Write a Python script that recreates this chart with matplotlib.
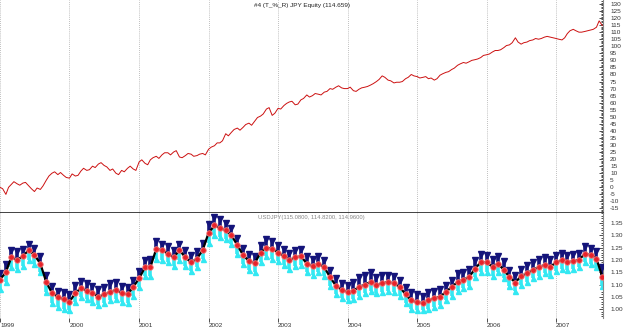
import matplotlib

matplotlib.use("Agg")
import matplotlib.dates as mdates
import matplotlib.pyplot as plt
import pandas as pd
from matplotlib.ticker import MultipleLocator, FormatStrFormatter

plt.rcParams["font.family"] = ["Liberation Sans", "DejaVu Sans"]

TITLE = "#4 (T_%_R) JPY Equity (114.659)"
PRICE_LABEL = "USDJPY(115.0800, 114.8200, 114.9600)"

# equity sampled twice a month, price sampled monthly, Jan 1999 .. Sep 2007
eq_dates = pd.date_range("1999-01-01", "2007-09-01", freq="SMS")
px_dates = pd.date_range("1999-01-01", "2007-09-01", freq="MS")
years = list(range(1999, 2008))

equity = [
    0, -1, -5, 0, 2, 4, 2.5, 1.5, 3, 3.5,
    1, -1, -3, -0.5, -1.5, 1, 5, 8, 10, 11,
    9, 10.5, 8.5, 7, 6.5, 9.5, 8, 8.5, 11.5, 13.5,
    12, 12.5, 15, 14, 16.5, 17.5, 15.5, 14.5, 12, 13,
    10, 9, 12, 11, 13.5, 15, 13, 12, 18, 19.5,
    17, 16, 19.5, 21, 22, 20.5, 23, 24.5, 24.5, 23,
    25, 26, 21.5, 21, 22.5, 24, 23.5, 22, 22.5, 23.5,
    24, 23, 27, 28.5, 29.5, 31.5, 31.5, 33, 38, 36.5,
    39, 41, 42, 40.5, 42.5, 44.5, 45.5, 44, 47, 49.5,
    50.5, 52, 55.5, 56.5, 51, 52.5, 56, 55.5, 58, 59.5,
    60.5, 61, 58.5, 59, 62, 63, 65.5, 64, 65, 66.5,
    66, 65.5, 67.5, 68, 70, 69.5, 71, 72, 70.5, 70,
    70, 71, 68.5, 68, 69.5, 70.5, 71, 71.5, 72.5, 73.5,
    75, 76.5, 79, 78, 76, 75.5, 74, 74.5, 74.5, 75,
    77, 78, 80, 79, 78.5, 77.5, 78, 78.5, 77, 77.5,
    76, 77, 79.5, 80.5, 81.5, 82, 83.5, 84.5, 86.5, 87.5,
    88.5, 88, 89, 90, 90.5, 91, 92, 93.5, 94, 94.5,
    96, 97, 97, 97.5, 99, 100.5, 101, 102.5, 106, 103,
    101.5, 102.5, 103, 104, 104.5, 105.5, 105, 105.5, 106.5, 107,
    106.5, 106, 105.5, 105, 104.5, 106, 109, 111, 112, 111,
    110, 110, 110.5, 111, 111.5, 112, 113.5, 118, 114.659,
]

usd_mid = [
    1.120, 1.150, 1.210, 1.200, 1.215, 1.240, 1.220, 1.185, 1.110, 1.065,
    1.050, 1.040, 1.030, 1.065, 1.085, 1.075, 1.065, 1.050, 1.060, 1.070,
    1.078, 1.065, 1.060, 1.090, 1.125, 1.170, 1.170, 1.245, 1.240, 1.225,
    1.210, 1.240, 1.210, 1.190, 1.205, 1.240, 1.310, 1.340, 1.330, 1.320,
    1.300, 1.260, 1.220, 1.195, 1.187, 1.230, 1.250, 1.245, 1.230, 1.215,
    1.200, 1.210, 1.215, 1.185, 1.175, 1.185, 1.170, 1.130, 1.095, 1.078,
    1.070, 1.075, 1.090, 1.100, 1.110, 1.098, 1.106, 1.110, 1.105, 1.090,
    1.060, 1.035, 1.028, 1.025, 1.035, 1.045, 1.050, 1.070, 1.090, 1.110,
    1.120, 1.130, 1.165, 1.190, 1.190, 1.172, 1.185, 1.160, 1.130, 1.108,
    1.135, 1.145, 1.160, 1.170, 1.180, 1.172, 1.190, 1.200, 1.190, 1.195,
    1.200, 1.225, 1.220, 1.205, 1.130,
]

usd_high = [
    1.145, 1.185, 1.240, 1.235, 1.245, 1.265, 1.250, 1.215, 1.140, 1.095,
    1.075, 1.070, 1.060, 1.100, 1.115, 1.105, 1.095, 1.080, 1.090, 1.105,
    1.110, 1.095, 1.090, 1.120, 1.155, 1.200, 1.205, 1.275, 1.265, 1.255,
    1.240, 1.265, 1.240, 1.220, 1.235, 1.270, 1.345, 1.375, 1.365, 1.350,
    1.330, 1.290, 1.250, 1.225, 1.215, 1.260, 1.285, 1.275, 1.260, 1.245,
    1.230, 1.240, 1.245, 1.215, 1.205, 1.215, 1.200, 1.160, 1.125, 1.105,
    1.100, 1.110, 1.130, 1.140, 1.150, 1.130, 1.140, 1.140, 1.135, 1.120,
    1.090, 1.070, 1.060, 1.055, 1.070, 1.075, 1.080, 1.100, 1.120, 1.145,
    1.150, 1.165, 1.200, 1.225, 1.220, 1.205, 1.215, 1.195, 1.160, 1.140,
    1.165, 1.180, 1.190, 1.205, 1.210, 1.205, 1.220, 1.230, 1.220, 1.225,
    1.230, 1.255, 1.250, 1.235, 1.170,
]

usd_low = [
    1.080, 1.110, 1.170, 1.165, 1.175, 1.200, 1.185, 1.150, 1.070, 1.025,
    1.010, 1.000, 0.995, 1.030, 1.050, 1.040, 1.030, 1.015, 1.025, 1.035,
    1.040, 1.030, 1.025, 1.055, 1.090, 1.135, 1.135, 1.205, 1.200, 1.190,
    1.175, 1.200, 1.175, 1.155, 1.170, 1.205, 1.270, 1.300, 1.295, 1.285,
    1.265, 1.225, 1.185, 1.160, 1.150, 1.190, 1.215, 1.205, 1.195, 1.180,
    1.165, 1.175, 1.180, 1.150, 1.140, 1.150, 1.135, 1.095, 1.060, 1.045,
    1.035, 1.040, 1.055, 1.065, 1.075, 1.065, 1.070, 1.075, 1.070, 1.055,
    1.025, 1.000, 0.995, 0.995, 1.000, 1.010, 1.015, 1.035, 1.055, 1.075,
    1.085, 1.095, 1.130, 1.150, 1.150, 1.135, 1.150, 1.125, 1.095, 1.075,
    1.100, 1.110, 1.125, 1.135, 1.145, 1.140, 1.155, 1.165, 1.160, 1.165,
    1.170, 1.190, 1.185, 1.170, 1.095,
]


def _style_axis(ax, major, minor, fmt):
    ax.yaxis.tick_right()
    ax.yaxis.set_major_locator(MultipleLocator(major))
    ax.yaxis.set_minor_locator(MultipleLocator(minor))
    ax.yaxis.set_major_formatter(FormatStrFormatter(fmt))
    ax.tick_params(axis="y", which="major", direction="in", length=3, width=0.6,
                   labelsize=4.6, pad=5, colors="#333333")
    ax.tick_params(axis="y", which="minor", direction="in", length=1.5, width=0.5)
    for side in ("left", "top"):
        ax.spines[side].set_visible(False)
    ax.spines["right"].set_color("#888888")
    ax.spines["right"].set_linewidth(0.8)
    for y in years:
        ax.axvline(pd.Timestamp(f"{y}-01-01"), color="#aaaaaa", lw=0.6, ls=(0, (1, 1.5)), zorder=0)


fig = plt.figure(figsize=(6.25, 3.29), dpi=100)
ax_top = fig.add_axes([0.0, 0.3526, 0.965, 0.6474])
ax_bot = fig.add_axes([0.0, 0.0334, 0.965, 0.3192], sharex=ax_top)

ax_top.plot(eq_dates, equity, color="#cc1111", lw=0.7)
ax_top.set_ylim(-18.2, 132.8)
_style_axis(ax_top, 5, 1, "%d")
ax_top.spines["bottom"].set_color("#222222")
ax_top.spines["bottom"].set_linewidth(1.2)
ax_top.tick_params(axis="x", which="both", bottom=False, labelbottom=False)
ax_top.text(0.5, 0.985, TITLE, transform=ax_top.transAxes, ha="center", va="top",
            fontsize=4.6, color="#222222")

# price panel
ax_bot.vlines(px_dates, usd_low, usd_mid, color="#33e8f2", lw=2.6, zorder=2)
ax_bot.plot(px_dates, usd_low, ls="none", marker="^", ms=3.6, color="#33e8f2", zorder=2)
ax_bot.vlines(px_dates, usd_mid, usd_high, color="#14147a", lw=2.6, zorder=3)
ax_bot.plot(px_dates, usd_high, ls="none", marker="v", ms=3.8, color="#14147a", zorder=3)
ax_bot.plot(px_dates, usd_mid, color="black", lw=1.6, zorder=4)
ax_bot.plot(px_dates, usd_mid, ls="none", marker="o", ms=4, color="#e8232a",
            mec="#f08080", mew=0.6, zorder=5)
ax_bot.set_ylim(0.9638, 1.3907)
_style_axis(ax_bot, 0.05, 0.01, "%.2f")
ax_bot.spines["bottom"].set_visible(False)
ax_bot.text(0.428, 0.985, PRICE_LABEL, transform=ax_bot.transAxes, ha="left", va="top",
            fontsize=4.2, color="#888888")

ax_bot.set_xlim(pd.Timestamp("1999-01-01"), pd.Timestamp("2007-09-05"))
ax_bot.xaxis.set_major_locator(mdates.YearLocator())
ax_bot.xaxis.set_major_formatter(mdates.DateFormatter("%Y"))
ax_bot.tick_params(axis="x", which="major", direction="out", length=3, width=0.6,
                   labelsize=4.6, pad=0.5, colors="#333333")
for lbl in ax_bot.get_xticklabels():
    lbl.set_horizontalalignment("left")

fig.savefig("out.png", dpi=100)
plt.close(fig)
